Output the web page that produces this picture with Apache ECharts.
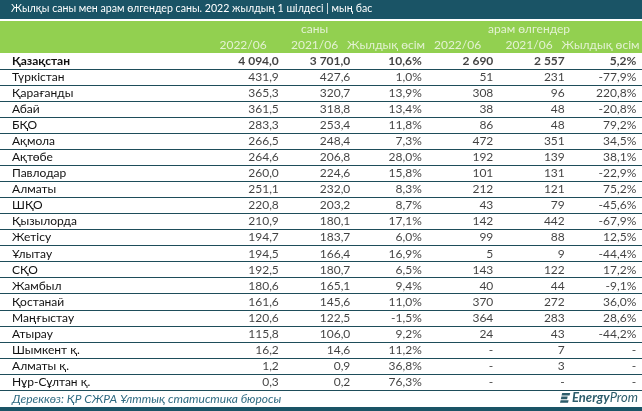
<!DOCTYPE html>
<html>
<head>
<meta charset="utf-8">
<script src="https://cdn.jsdelivr.net/npm/echarts@6/dist/echarts.min.js"></script>
<style>
  html, body { margin: 0; padding: 0; background: #fff; }
  #chart { width: 642px; height: 411px; }
</style>
</head>
<body>
<div id="chart"></div>
<script>
// дерек
const regions = ['Қазақстан', 'Түркістан', 'Қарағанды', 'Абай', 'БҚО', 'Ақмола', 'Ақтөбе', 'Павлодар',
  'Алматы', 'ШҚО', 'Қызылорда', 'Жетісу', 'Ұлытау', 'СҚО', 'Жамбыл', 'Қостанай', 'Маңғыстау',
  'Атырау', 'Шымкент қ.', 'Алматы қ.', 'Нұр-Сұлтан қ.']
const horses2022 = [4094.0, 431.9, 365.3, 361.5, 283.3, 266.5, 264.6, 260.0, 251.1, 220.8, 210.9,
  194.7, 194.5, 192.5, 180.6, 161.6, 120.6, 115.8, 16.2, 1.2, 0.3]
const horses2021 = [3701.0, 427.6, 320.7, 318.8, 253.4, 248.4, 206.8, 224.6, 232.0, 203.2, 180.1,
  183.7, 166.4, 180.7, 165.1, 145.6, 122.5, 106.0, 14.6, 0.9, 0.2]
const horsesGrowth = [10.6, 1.0, 13.9, 13.4, 11.8, 7.3, 28.0, 15.8, 8.3, 8.7, 17.1,
  6.0, 16.9, 6.5, 9.4, 11.0, -1.5, 9.2, 11.2, 36.8, 76.3]
const deaths2022 = [2690, 51, 308, 38, 86, 472, 192, 101, 212, 43, 142,
  99, 5, 143, 40, 370, 364, 24, null, null, null]
const deaths2021 = [2557, 231, 96, 48, 48, 351, 139, 131, 121, 79, 442,
  88, 9, 122, 44, 272, 283, 43, 7, 3, null]
const deathsGrowth = [5.2, -77.9, 220.8, -20.8, 79.2, 34.5, 38.1, -22.9, 75.2, -45.6, -67.9,
  12.5, -44.4, 17.2, -9.1, 36.0, 28.6, -44.2, null, null, null]

const groupHeaders = ['саны', 'арам өлгендер']
const subHeaders = ['2022/06', '2021/06', 'Жылдық өсім', '2022/06', '2021/06', 'Жылдық өсім']

const FONT = 'Lato'
const TEAL = '#1a5466'
const LINE = '#1e4d5a'
const GREEN = '#92d050'

// 4 094,0 түріндегі сан
const num = (v, d) => {
  if (v == null) return '-'
  const [i, f] = Math.abs(v).toFixed(d).split('.')
  const s = i.replace(/\B(?=(\d{3})+(?!\d))/g, ' ')
  return (v < 0 ? '-' : '') + s + (f ? ',' + f : '')
}
const pct = v => (v == null ? '-' : num(v, 1) + '%')

const columns = [
  { values: horses2022, fmt: v => num(v, 1) },
  { values: horses2021, fmt: v => num(v, 1) },
  { values: horsesGrowth, fmt: pct },
  { values: deaths2022, fmt: v => num(v, 0) },
  { values: deaths2021, fmt: v => num(v, 0) },
  { values: deathsGrowth, fmt: pct }
]

const rowKeys = ['h1', 'h2', ...regions]

const chart = echarts.init(document.getElementById('chart'))

const cellSeries = columns.map((col, ci) => ({
  type: 'scatter',
  symbolSize: 0,
  silent: true,
  data: regions.map((r, ri) => ({
    value: [ci + 1, r],
    label: ri === 0 ? { fontWeight: 'bold' } : undefined
  })),
  label: {
    show: true,
    position: 'left',
    distance: 0,
    color: '#111',
    fontFamily: FONT,
    fontSize: 12,
    formatter: p => col.fmt(col.values[p.dataIndex])
  }
}))

const headerLabel = {
  show: true,
  position: 'inside',
  color: '#f7faf2',
  fontFamily: FONT,
  fontSize: 12,
  formatter: p => p.name
}

const headerSeries = [
  {
    type: 'scatter',
    symbolSize: 0,
    silent: true,
    data: groupHeaders.map((h, i) => ({ name: h, value: [i * 3 + 1.5, 'h1'] })),
    label: headerLabel
  },
  {
    type: 'scatter',
    symbolSize: 0,
    silent: true,
    data: subHeaders.map((h, i) => ({ name: h, value: [i + 0.5, 'h2'] })),
    label: headerLabel
  }
]

const splitLineColors = rowKeys.map((k, i) => (i < 3 ? 'rgba(0,0,0,0)' : LINE))
splitLineColors.push(LINE)
const splitAreaColors = rowKeys.map((k, i) => (i < 2 ? GREEN : 'rgba(0,0,0,0)'))
splitAreaColors.push('rgba(0,0,0,0)')

chart.setOption({
  animation: false,
  textStyle: { fontFamily: FONT },
  title: {
    text: 'Жылқы саны мен арам өлгендер саны. 2022 жылдың 1 шілдесі | мың бас',
    left: 11,
    top: 3.5,
    padding: 0,
    textStyle: { color: '#fff', fontSize: 10.6, fontWeight: 'normal', fontFamily: FONT }
  },
  graphic: [
    { type: 'rect', z: -1, shape: { x: 0, y: 0, width: 642, height: 19 }, style: { fill: TEAL } },
    { type: 'rect', z: -1, shape: { x: 0, y: 407, width: 642, height: 4 }, style: { fill: TEAL } },
    {
      type: 'text', left: 12, top: 393,
      style: {
        text: 'Дереккөз: ҚР СЖРА Ұлттық статистика бюросы',
        fill: '#2f6b82', fontStyle: 'italic', fontSize: 12, fontFamily: FONT
      }
    },
    {
      type: 'group', left: 560, top: 393,
      children: [
        { type: 'polygon', shape: { points: [[2, 0], [10, 0], [9.4, 2.6], [1.4, 2.6]] }, style: { fill: '#2d5d6b' } },
        { type: 'polygon', shape: { points: [[1.2, 3.6], [7.5, 3.6], [6.9, 6.2], [0.6, 6.2]] }, style: { fill: '#2d5d6b' } },
        { type: 'polygon', shape: { points: [[0.4, 7.2], [8.4, 7.2], [7.8, 9.8], [-0.2, 9.8]] }, style: { fill: '#2d5d6b' } }
      ]
    },
    {
      type: 'text', left: 572, top: 391,
      style: {
        text: '{a|Energy}{b|Prom}',
        rich: {
          a: { fill: '#2d5d6b', fontStyle: 'italic', fontWeight: 'bold', fontSize: 13, fontFamily: FONT },
          b: { fill: '#2d5d6b', fontStyle: 'italic', fontSize: 13, fontFamily: FONT }
        }
      }
    }
  ],
  grid: { left: 0, right: 0, top: 21, bottom: 21 },
  xAxis: {
    type: 'value',
    min: -2.9,
    max: 6.08,
    show: false
  },
  yAxis: {
    type: 'category',
    data: rowKeys,
    inverse: true,
    axisLine: { show: false },
    axisTick: { show: false },
    axisLabel: {
      inside: true,
      interval: 0,
      margin: 12,
      color: '#111',
      fontSize: 12,
      fontFamily: FONT,
      formatter: (v, i) => (i < 2 ? '' : i === 2 ? '{b|' + v + '}' : v),
      rich: { b: { fontWeight: 'bold', fontSize: 12, fontFamily: FONT, color: '#111' } }
    },
    splitLine: { show: true, interval: 0, lineStyle: { color: splitLineColors, width: 1 } },
    splitArea: { show: true, interval: 0, areaStyle: { color: splitAreaColors } }
  },
  series: [...headerSeries, ...cellSeries]
})
</script>
</body>
</html>
